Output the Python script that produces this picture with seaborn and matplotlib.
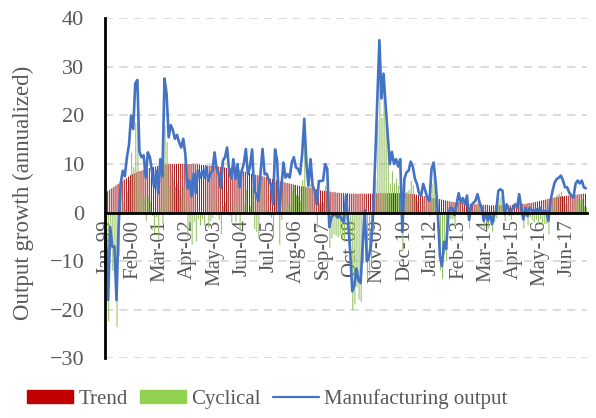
import numpy as np
import pandas as pd
import matplotlib
matplotlib.use("Agg")
import matplotlib.pyplot as plt
from matplotlib.patches import Patch
from matplotlib.lines import Line2D
import seaborn as sns

# monthly series, Jan-99 .. Mar-18 (one row per year)
TREND = [
    4.1, 4.4, 4.7, 5.0, 5.3, 5.6, 5.9, 6.2, 6.5, 6.8, 7.1, 7.4,
    7.7, 7.9, 8.1, 8.3, 8.5, 8.6, 8.8, 8.9, 9.0, 9.2, 9.3, 9.4,
    9.5, 9.6, 9.7, 9.8, 9.8, 9.9, 9.9, 10.0, 10.0, 10.0, 10.0, 10.0,
    10.0, 10.0, 10.0, 10.0, 10.0, 10.0, 10.0, 9.9, 9.9, 9.9, 9.8, 9.8,
    9.8, 9.7, 9.7, 9.7, 9.6, 9.6, 9.5, 9.4, 9.4, 9.3, 9.2, 9.2,
    9.1, 9.0, 8.9, 8.8, 8.7, 8.6, 8.5, 8.4, 8.3, 8.2, 8.0, 7.9,
    7.8, 7.7, 7.6, 7.5, 7.4, 7.3, 7.2, 7.0, 6.9, 6.8, 6.7, 6.6,
    6.5, 6.3, 6.2, 6.1, 6.0, 5.9, 5.8, 5.7, 5.6, 5.5, 5.4, 5.4,
    5.3, 5.2, 5.1, 5.0, 4.9, 4.8, 4.7, 4.6, 4.5, 4.5, 4.4, 4.3,
    4.3, 4.2, 4.2, 4.1, 4.1, 4.0, 4.0, 4.0, 4.0, 3.9, 3.9, 3.9,
    3.9, 3.9, 3.9, 3.9, 3.9, 3.9, 3.9, 3.9, 3.9, 3.9, 4.0, 4.0,
    4.0, 4.0, 4.0, 4.0, 4.0, 4.0, 4.0, 4.0, 4.0, 4.0, 4.0, 4.0,
    4.0, 3.9, 3.9, 3.8, 3.8, 3.7, 3.6, 3.5, 3.4, 3.4, 3.3, 3.2,
    3.1, 3.0, 2.9, 2.9, 2.8, 2.7, 2.6, 2.5, 2.4, 2.3, 2.2, 2.2,
    2.1, 2.1, 2.0, 2.0, 1.9, 1.9, 1.8, 1.8, 1.8, 1.7, 1.7, 1.7,
    1.6, 1.6, 1.6, 1.6, 1.5, 1.5, 1.5, 1.5, 1.5, 1.5, 1.5, 1.5,
    1.5, 1.5, 1.5, 1.6, 1.6, 1.6, 1.7, 1.7, 1.8, 1.8, 1.9, 2.0,
    2.0, 2.1, 2.2, 2.3, 2.4, 2.5, 2.6, 2.7, 2.8, 2.9, 3.0, 3.1,
    3.2, 3.3, 3.3, 3.4, 3.4, 3.5, 3.5, 3.6, 3.6, 3.7, 3.7, 3.8,
    3.8, 3.9, 3.9,
]

CYCLICAL = [
    -9.1, -22.4, -7.7, -12.0, -12.3, -23.6, -8.9, -0.3, 2.1, 0.7, 4.3, 6.6,
    12.3, 9.3, 18.5, 19.0, 4.0, 2.8, 3.0, -1.7, 3.4, 2.2, -0.7, -4.2,
    -0.9, -5.6, 1.3, -2.3, 17.8, 14.6, 5.6, 8.0, 7.0, 5.2, 6.0, 4.5,
    3.4, 5.2, 2.0, -5.0, -3.4, -6.6, -2.0, -5.9, -1.3, -2.7, -1.3, -2.6,
    -0.5, -3.2, -1.7, -1.1, 2.8, -0.6, -1.5, -4.4, 1.3, 2.1, 4.2, -0.6,
    -2.1, 2.0, -1.9, 1.2, -3.5, 0.0, 1.5, 4.7, -0.4, 1.3, 5.0, -3.4,
    -4.0, -5.3, 0.4, 5.6, 0.5, 0.7, -0.6, -1.1, -5.2, 6.2, 4.0, -6.6,
    -1.5, 4.0, 1.0, 1.8, 1.2, 4.4, 5.6, 3.6, 3.4, 2.4, 6.7, 13.9,
    5.0, 0.3, 5.9, 0.5, -0.4, -3.1, 1.8, 1.9, 2.1, 5.5, 4.6, -7.3,
    -5.3, -4.5, -4.7, -5.1, -4.6, -5.5, -6.0, -0.5, -6.0, -11.9, -20.1, -18.9,
    -15.4, -17.9, -18.4, -10.4, -3.4, -13.9, -12.9, -10.4, -3.9, 7.1, 19.0, 31.5,
    19.5, 24.6, 18.0, 12.0, 6.0, 8.5, 6.0, 7.0, 5.5, 7.0, -8.0, 3.0,
    4.3, 4.7, 6.6, 5.7, 3.2, 2.2, 0.4, 0.0, 2.5, 1.1, -0.3, -0.8,
    5.9, 7.3, 3.1, -2.9, -11.8, -13.7, -8.6, -10.0, -2.7, -1.3, -1.4, -2.7,
    -0.4, 1.9, 0.0, 1.0, -0.2, 1.6, -3.3, -0.4, 0.2, 0.7, 2.1, 0.4,
    -0.6, -3.3, -1.6, -3.3, -1.5, -3.9, -2.0, -1.2, 3.0, 3.3, 3.0, -1.8,
    0.2, -0.8, -1.5, -0.6, 0.1, -0.6, 2.1, -0.7, -3.2, -0.8, -2.6, -1.0,
    -1.5, -2.1, -1.5, -2.3, -1.4, -2.5, -2.3, -2.4, -4.5, -0.5, 1.5, 3.1,
    3.7, 3.9, 4.3, 3.2, 1.8, 1.7, 0.6, -0.1, -0.5, 2.2, 2.9, 2.2,
    2.8, 1.3, 1.1,
]

OUTPUT = [
    -5.0, -18.0, -3.0, -7.0, -7.0, -18.0, -3.0, 5.9, 8.6, 7.5, 11.4, 14.0,
    20.0, 17.2, 26.6, 27.3, 12.5, 11.4, 11.8, 7.2, 12.4, 11.4, 8.6, 5.2,
    8.6, 4.0, 11.0, 7.5, 27.6, 24.5, 15.5, 18.0, 17.0, 15.2, 16.0, 14.5,
    13.4, 15.2, 12.0, 5.0, 6.6, 3.4, 8.0, 4.0, 8.6, 7.2, 8.5, 7.2,
    9.3, 6.5, 8.0, 8.6, 12.4, 9.0, 8.0, 5.0, 10.7, 11.4, 13.4, 8.6,
    7.0, 11.0, 7.0, 10.0, 5.2, 8.6, 10.0, 13.1, 7.9, 9.5, 13.0, 4.5,
    3.8, 2.4, 8.0, 13.1, 7.9, 8.0, 6.6, 5.9, 1.7, 13.0, 10.7, 0.0,
    5.0, 10.3, 7.2, 7.9, 7.2, 10.3, 11.4, 9.3, 9.0, 7.9, 12.1, 19.3,
    10.3, 5.5, 11.0, 5.5, 4.5, 1.7, 6.5, 6.5, 6.6, 10.0, 9.0, -3.0,
    -1.0, -0.3, -0.5, -1.0, -0.5, -1.5, -2.0, 3.5, -2.0, -8.0, -16.2, -15.0,
    -11.5, -14.0, -14.5, -6.5, 0.5, -10.0, -9.0, -6.5, 0.0, 11.0, 23.0, 35.5,
    23.5, 28.6, 22.0, 16.0, 10.0, 12.5, 10.0, 11.0, 9.5, 11.0, -4.0, 7.0,
    8.3, 8.6, 10.5, 9.5, 7.0, 5.9, 4.0, 3.5, 5.9, 4.5, 3.0, 2.4,
    9.0, 10.3, 6.0, 0.0, -9.0, -11.0, -6.0, -7.5, -0.3, 1.0, 0.8, -0.5,
    1.7, 4.0, 2.0, 3.0, 1.7, 3.5, -1.5, 1.4, 2.0, 2.4, 3.8, 2.1,
    1.0, -1.7, 0.0, -1.7, 0.0, -2.4, -0.5, 0.3, 4.5, 4.8, 4.5, -0.3,
    1.7, 0.7, 0.0, 1.0, 1.7, 1.0, 3.8, 1.0, -1.4, 1.0, -0.7, 1.0,
    0.5, 0.0, 0.7, 0.0, 1.0, 0.0, 0.3, 0.3, -1.7, 2.4, 4.5, 6.2,
    6.9, 7.2, 7.6, 6.6, 5.2, 5.2, 4.1, 3.5, 3.1, 5.9, 6.6, 6.0,
    6.6, 5.2, 5.0,
]

TICK_LABELS = ["Jan-99", "Feb-00", "Mar-01", "Apr-02", "May-03", "Jun-04",
               "Jul-05", "Aug-06", "Sep-07", "Oct-08", "Nov-09", "Dec-10",
               "Jan-12", "Feb-13", "Mar-14", "Apr-15", "May-16", "Jun-17"]

RED = "#C00000"
GREEN = "#92D050"
BLUE = "#4472C4"
GREY = "#595959"

n = len(OUTPUT)
months = pd.date_range("1999-01-01", periods=n, freq="MS").strftime("%b-%y")
df = pd.DataFrame({"month": months, "Trend": TREND, "Cyclical": CYCLICAL})
bars = df.melt(id_vars="month", var_name="series", value_name="value")

sns.set_theme(style="white")
plt.rcParams["font.family"] = ["Liberation Serif", "DejaVu Serif"]

fig = plt.figure(figsize=(5.96, 4.18), dpi=100)
ax = fig.add_axes([0.1762, 0.1428, 0.8087, 0.8134])

sns.barplot(data=bars, x="month", y="value", hue="series",
            hue_order=["Trend", "Cyclical"], order=list(months),
            palette={"Trend": RED, "Cyclical": GREEN},
            errorbar=None, width=1.0, linewidth=0, legend=False, ax=ax)
# thin bars: no pixel snapping so each month keeps its own column
for p in ax.patches:
    p.set_snap(False)
sns.lineplot(x=np.arange(n), y=OUTPUT, color=BLUE, linewidth=1.9, ax=ax)

ax.set_xlim(-0.5, n - 0.5)
ax.set_ylim(-30, 40)
ax.set_yticks(range(-30, 41, 10))
ax.set_xticks(np.arange(0, n, 13))
ax.set_xticklabels(TICK_LABELS)
ax.tick_params(axis="x", length=0, pad=5, labelrotation=90, labelsize=15,
               labelcolor=GREY)
ax.tick_params(axis="y", length=0, pad=15, labelsize=16, labelcolor=GREY)
ax.set_xlabel("")
ax.set_ylabel("Output growth (annualized)", fontsize=16.5, color=GREY)
ax.yaxis.set_label_coords(-0.147, 0.4876)

ax.set_axisbelow(True)
ax.yaxis.grid(True, color="#D9D9D9", linestyle=(0, (4.5, 3.5)), linewidth=1.3)
ax.xaxis.grid(False)

for side in ["top", "right"]:
    ax.spines[side].set_visible(False)
ax.spines["left"].set_color("black")
ax.spines["left"].set_linewidth(2)
ax.spines["bottom"].set_position(("data", 0))
ax.spines["bottom"].set_color("black")
ax.spines["bottom"].set_linewidth(2)

handles = [Patch(color=RED), Patch(color=GREEN), Line2D([], [], color=BLUE, linewidth=1.6)]
fig.legend(handles, ["Trend", "Cyclical", "Manufacturing output"],
           loc="center", bbox_to_anchor=(0.449, 0.045), ncol=3, frameon=False,
           fontsize=15, labelcolor=GREY, handlelength=2.2, handleheight=0.6,
           handletextpad=0.25, columnspacing=0.6)

fig.savefig("out.png", dpi=100)
